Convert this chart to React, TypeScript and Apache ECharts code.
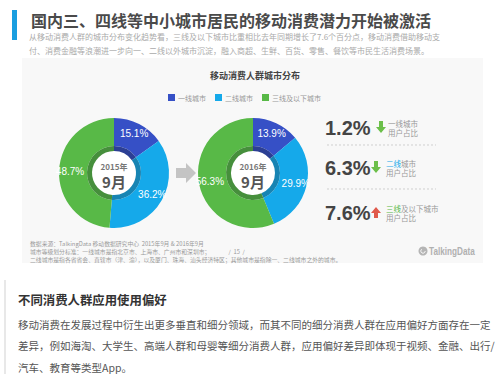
import React, { useEffect, useRef } from "react";
import * as echarts from "echarts";

// ---- data ----
const cityTiers = ["一线城市", "二线城市", "三线及以下城市"];
const share2015 = [15.1, 36.2, 48.7];
const share2016 = [13.9, 29.9, 56.3];
const changeValues = [1.2, 6.3, 7.6];
const changeDirections = ["down", "down", "up"];
const tierPrefix = ["", "二线", "三线"];
const tierRest = ["一线城市", "城市", "及以下城市"];
const yearLabels = ["2015年", "2016年"];
const monthLabel = "9月";

const titleText = "国内三、四线等中小城市居民的移动消费潜力开始被激活";
const subtitleLines = [
  "从移动消费人群的城市分布变化趋势看，三线及以下城市比重相比去年同期增长了7.6个百分点，移动消费借助移动支",
  "付、消费金融等浪潮进一步向一、二线以外城市沉淀，融入商超、生鲜、百货、零售、餐饮等市民生活消费场景。",
];
const chartTitle = "移动消费人群城市分布";
const footnoteLines = [
  "数据来源：TalkingData 移动数据研究中心  2015年9月 & 2016年9月",
  "城市等级划分标准：一线城市是指北京市、上海市、广州市和深圳市；",
  "二线城市是指各省省会、直辖市（津、渝），以及厦门、珠海、汕头经济特区；其他城市是指除一、二线城市之外的城市。",
];
const pageNumber = "/  15  /";
const sectionTitle = "不同消费人群应用使用偏好";
const paragraphLines = [
  "移动消费在发展过程中衍生出更多垂直和细分领域，而其不同的细分消费人群在应用偏好方面存在一定",
  "差异，例如海淘、大学生、高端人群和母婴等细分消费人群，应用偏好差异即体现于视频、金融、出行/",
  "汽车、教育等类型App。",
];

// ---- styling ----
const COLORS = ["#3650c6", "#15a9ea", "#58b947"];
const DARK = ["#2c3f94", "#1784b3", "#468f3c"];
const PREFIX_COLORS = ["#999", "#15a9ea", "#58b947"];
const FONT = '"Liberation Sans", "Noto Sans CJK SC", sans-serif';
const CJK = '"Noto Sans CJK SC", "Liberation Sans", sans-serif';

const pieCenters = [
  [114, 173],
  [253, 173],
];
const rowY = [128, 168, 213];
const arrowX = [381, 376, 376];
const labelX = [388, 386, 386];

function txt(x: number, y: number, text: string, o: any = {}) {
  return {
    type: "text",
    x,
    y,
    scaleX: o.scaleX || 1,
    silent: true,
    style: {
      text,
      fill: o.fill || "#555",
      fontSize: o.fontSize || 10,
      fontWeight: o.fontWeight || "normal",
      fontFamily: o.fontFamily || CJK,
      lineHeight: o.lineHeight,
      align: o.align || "left",
      verticalAlign: o.va || "middle",
      textAlign: o.align || "left",
      textVerticalAlign: o.va || "middle",
    },
  };
}

export default function App() {
  const ref = useRef<HTMLDivElement>(null);
  useEffect(() => {
    if (!ref.current) return;
    const chart = echarts.init(ref.current, null, { renderer: "svg" });

    const graphics: any[] = [];
    // card background
    graphics.push({
      type: "rect",
      shape: { x: 22, y: 58, width: 461, height: 205 },
      style: { fill: "#f8f8f8" },
      silent: true,
      z: -10,
    });
    // header bar + title
    graphics.push({
      type: "rect",
      shape: { x: 12, y: 10, width: 5, height: 30 },
      style: { fill: "#1a9ee0" },
      silent: true,
    });
    graphics.push(txt(31, 20, titleText, { fontSize: 16, fontWeight: "bold", fill: "#4a4a4a" }));
    subtitleLines.forEach((l, i) =>
      graphics.push(txt(29, 36 + i * 14.5, l, { fontSize: 8, fill: "#aaa" }))
    );

    // pie centers
    yearLabels.forEach((y, i) => {
      const [cx, cy] = pieCenters[i];
      graphics.push({
        type: "circle",
        shape: { cx, cy, r: 22 },
        style: { fill: "#ffffff" },
        silent: true,
      });
      graphics.push(txt(cx, cy - 7, y, { fontSize: 8, fill: "#777", align: "center", fontWeight: "bold" }));
      graphics.push(txt(cx, cy + 8, monthLabel, { fontSize: 15, fill: "#555", align: "center", fontWeight: "bold" }));
    });

    // arrow between pies
    graphics.push({
      type: "polygon",
      shape: {
        points: [
          [176, 168],
          [186, 168],
          [186, 163],
          [196, 173],
          [186, 183],
          [186, 178],
          [176, 178],
        ],
      },
      style: { fill: "#c4c4c4" },
      silent: true,
    });

    // right panel
    changeValues.forEach((v, i) => {
      const y = rowY[i];
      graphics.push(
        txt(325, y, v.toFixed(1) + "%", { fontSize: 20, fontWeight: "bold", fill: "#444", fontFamily: FONT })
      );
      const ax = arrowX[i];
      const up = changeDirections[i] === "up";
      const pts = up
        ? [
            [ax, y - 6],
            [ax + 5, y],
            [ax + 2, y],
            [ax + 2, y + 5],
            [ax - 2, y + 5],
            [ax - 2, y],
            [ax - 5, y],
          ]
        : [
            [ax - 2, y - 7],
            [ax + 2, y - 7],
            [ax + 2, y - 1],
            [ax + 5, y - 1],
            [ax, y + 5],
            [ax - 5, y - 1],
            [ax - 2, y - 1],
          ];
      graphics.push({
        type: "polygon",
        shape: { points: pts },
        style: { fill: up ? "#e05a4c" : "#6cbf4a" },
        silent: true,
      });
      const pre = tierPrefix[i];
      const fs = 7.5;
      if (pre) {
        graphics.push(txt(labelX[i], y - 5, pre, { fontSize: fs, fill: PREFIX_COLORS[i] }));
      }
      graphics.push(txt(labelX[i] + pre.length * fs, y - 5, tierRest[i], { fontSize: fs, fill: "#999" }));
      graphics.push(txt(labelX[i], y + 4.5, "用户占比", { fontSize: fs, fill: "#999" }));
      if (i < changeValues.length - 1) {
        const ly = Math.round((rowY[i] + rowY[i + 1]) / 2) - 3 + i * 1;
        graphics.push({
          type: "line",
          shape: { x1: 327, y1: ly, x2: 436, y2: ly },
          style: { stroke: "#cfcfcf", lineWidth: 1, lineDash: [2, 2] },
          silent: true,
        });
      }
    });

    // footnote (one multi-line block; page number sits on the second line)
    const footBlock = [
      footnoteLines[0],
      footnoteLines[1] + "              " + pageNumber,
      footnoteLines[2],
    ].join("\n");
    graphics.push(
      txt(30, 239.5, footBlock, { fontSize: 5.5, fill: "#999", lineHeight: 8, va: "top", scaleX: 1.06 })
    );

    // logo
    graphics.push({
      type: "circle",
      shape: { cx: 423, cy: 251, r: 4.5 },
      style: { fill: "#b5b5b5" },
      silent: true,
    });
    graphics.push({
      type: "arc",
      shape: { cx: 423, cy: 251, r: 2.2, startAngle: 0, endAngle: Math.PI * 1.3 },
      style: { stroke: "#f8f8f8", lineWidth: 1, fill: "none" },
      silent: true,
    });
    graphics.push(
      txt(429, 251, "TalkingData", {
        fontSize: 10.5,
        fontWeight: "bold",
        fill: "#b0b0b0",
        fontFamily: FONT,
        scaleX: 0.78,
      })
    );

    // bottom section
    graphics.push({
      type: "line",
      shape: { x1: 5, y1: 280, x2: 5, y2: 374 },
      style: { stroke: "#e0e0e0", lineWidth: 1.5 },
      silent: true,
    });
    graphics.push(txt(18, 300, sectionTitle, { fontSize: 12.4, fontWeight: "bold", fill: "#333" }));
    paragraphLines.forEach((l, i) =>
      graphics.push(txt(18, 324 + i * 21.5, l, { fontSize: 10.5, fill: "#555" }))
    );

    const ringSeries = (data: number[], i: number) => [
      {
        type: "pie",
        center: pieCenters[i],
        radius: [27, 55],
        startAngle: 90,
        clockwise: true,
        silent: true,
        avoidLabelOverlap: false,
        label: {
          show: true,
          position: "inside",
          formatter: (p: any) => p.value.toFixed(1) + "%",
          color: "#ffffff",
          fontSize: 10,
          fontFamily: FONT,
        },
        labelLine: { show: false },
        itemStyle: { borderWidth: 0 },
        data: cityTiers.map((n, k) => ({ name: n, value: data[k], itemStyle: { color: COLORS[k] } })),
        z: 2,
      },
      {
        type: "pie",
        center: pieCenters[i],
        radius: [22, 27],
        startAngle: 90,
        clockwise: true,
        silent: true,
        label: { show: false },
        labelLine: { show: false },
        data: cityTiers.map((n, k) => ({ name: n, value: data[k], itemStyle: { color: DARK[k] } })),
        z: 2,
      },
    ];

    chart.setOption({
      animation: false,
      backgroundColor: "#ffffff",
      textStyle: { fontFamily: CJK },
      title: {
        text: chartTitle,
        left: 250,
        top: 66,
        textAlign: "center",
        textStyle: { fontSize: 9, fontWeight: "bold", color: "#444", fontFamily: CJK },
      },
      legend: {
        data: cityTiers,
        left: 163,
        top: 89,
        icon: "rect",
        itemWidth: 7,
        itemHeight: 7,
        itemGap: 9,
        textStyle: { fontSize: 7, color: "#999", fontFamily: CJK, padding: [0, 0, 0, -2] },
        selectedMode: false,
      },
      graphic: { elements: graphics },
      series: [...ringSeries(share2015, 0), ...ringSeries(share2016, 1)],
    });

    return () => chart.dispose();
  }, []);
  return (
    <div
      ref={ref}
      style={{ position: "fixed", left: 0, top: 0, width: 500, height: 374, background: "#fff" }}
    />
  );
}
